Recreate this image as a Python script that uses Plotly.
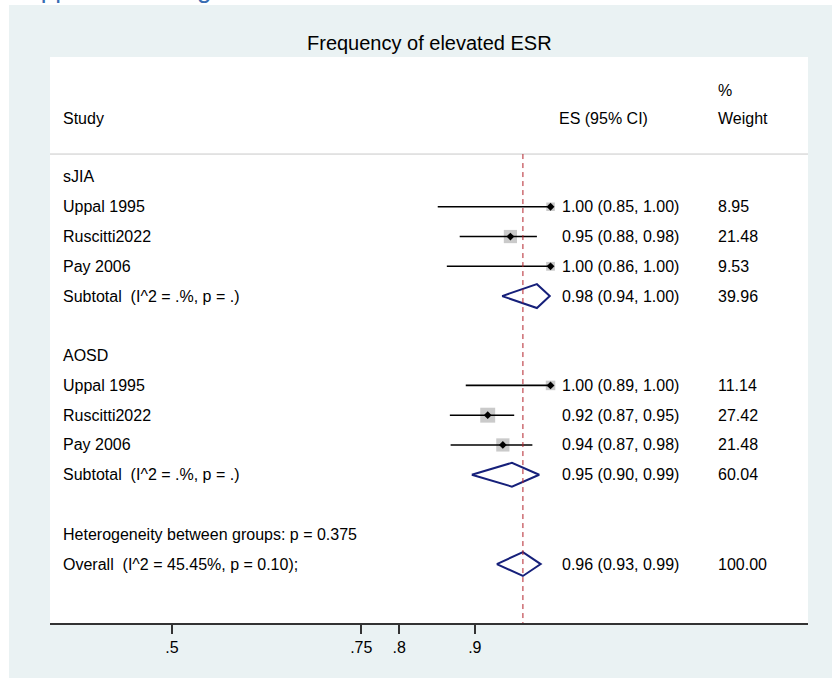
import plotly.graph_objects as go

# ---------------- data ----------------
row_labels = ["sJIA", "Uppal 1995", "Ruscitti2022", "Pay 2006",
              "Subtotal\u00a0\u00a0(I^2 = .%, p = .)", "",
              "AOSD", "Uppal 1995", "Ruscitti2022", "Pay 2006",
              "Subtotal\u00a0\u00a0(I^2 = .%, p = .)", "",
              "Heterogeneity between groups: p = 0.375",
              "Overall\u00a0\u00a0(I^2 = 45.45%, p = 0.10);"]
es_text = ["", "1.00 (0.85, 1.00)", "0.95 (0.88, 0.98)", "1.00 (0.86, 1.00)",
           "0.98 (0.94, 1.00)", "", "", "1.00 (0.89, 1.00)", "0.92 (0.87, 0.95)",
           "0.94 (0.87, 0.98)", "0.95 (0.90, 0.99)", "", "", "0.96 (0.93, 0.99)"]
weight_text = ["", "8.95", "21.48", "9.53", "39.96", "", "", "11.14", "27.42",
               "21.48", "60.04", "", "", "100.00"]

# individual studies (row index, ES, lower, upper, weight)
study_rows = [1, 2, 3, 7, 8, 9]
study_es = [1.000, 0.947, 1.000, 1.000, 0.917, 0.937]
study_lo = [0.851, 0.880, 0.863, 0.888, 0.867, 0.868]
study_hi = [1.000, 0.982, 1.000, 1.000, 0.952, 0.976]
study_w = [8.95, 21.48, 9.53, 11.14, 27.42, 21.48]

# pooled estimates (subtotals and overall)
pool_rows = [4, 10, 13]
pool_es = [0.982, 0.949, 0.9635]
pool_lo = [0.936, 0.896, 0.929]
pool_hi = [0.999, 0.985, 0.987]

overall_es = 0.9635

tick_vals = [0.5, 0.75, 0.8, 0.9]
tick_text = [".5", ".75", ".8", ".9"]

title_text = "Frequency of elevated ESR"

# ---------------- layout constants ----------------
W, H = 832, 678
L, R, T, B = 50, 24, 57, 55
PW, PH = W - L - R, H - T - B
FONT = "Liberation Sans, Arial, Helvetica, sans-serif"
BG = "#EAF2F3"

def px2paper_x(px):
    return (px - L) / PW

def py2paper_y(py):
    return (H - B - py) / PH

Y_TOP, Y_BOT = 4.03, -14.98

fig = go.Figure()

# gray weight boxes
fig.add_trace(go.Scatter(
    x=study_es, y=[-r for r in study_rows], mode="markers",
    marker=dict(symbol="square", size=[2.85 * w ** 0.5 for w in study_w],
                color="#b4b4b4", line=dict(width=0)),
    hoverinfo="skip", showlegend=False))

# CI lines
for r, lo, hi in zip(study_rows, study_lo, study_hi):
    fig.add_trace(go.Scatter(x=[lo, hi], y=[-r, -r], mode="lines",
                             line=dict(color="black", width=1.6),
                             hoverinfo="skip", showlegend=False))

# point estimates
fig.add_trace(go.Scatter(
    x=study_es, y=[-r for r in study_rows], mode="markers",
    marker=dict(symbol="diamond", size=6, color="black"),
    hoverinfo="skip", showlegend=False))

# pooled diamonds
for r, es, lo, hi in zip(pool_rows, pool_es, pool_lo, pool_hi):
    fig.add_trace(go.Scatter(
        x=[lo, es, hi, es, lo], y=[-r, -r + 0.4, -r, -r - 0.4, -r],
        mode="lines", line=dict(color="#16207a", width=2),
        hoverinfo="skip", showlegend=False))

annotations = []
# row labels, ES text, weights
for i, (lab, est, wt) in enumerate(zip(row_labels, es_text, weight_text)):
    if lab:
        annotations.append(dict(x=px2paper_x(61), y=-i, xref="paper", yref="y",
                                text=lab, showarrow=False, xanchor="left",
                                yanchor="middle", font=dict(size=16, color="black")))
    if est:
        annotations.append(dict(x=px2paper_x(560), y=-i, xref="paper", yref="y",
                                text=est, showarrow=False, xanchor="left",
                                yanchor="middle", font=dict(size=16, color="black")))
    if wt:
        annotations.append(dict(x=px2paper_x(716), y=-i, xref="paper", yref="y",
                                text=wt, showarrow=False, xanchor="left",
                                yanchor="middle", font=dict(size=16, color="black")))

# header
for txt, px, yy in [("Study", 61, 1.95), ("ES (95% CI)", 557, 1.95),
                    ("Weight", 716, 1.95), ("%", 716, 2.92)]:
    annotations.append(dict(x=px2paper_x(px), y=yy, xref="paper", yref="y",
                            text=txt, showarrow=False, xanchor="left",
                            yanchor="middle", font=dict(size=16, color="black")))

# title
annotations.append(dict(x=0.5, y=py2paper_y(43), xref="paper", yref="paper",
                        text=title_text, showarrow=False, xanchor="center",
                        yanchor="middle", font=dict(size=20, color="black")))

# cut-off page caption at the very top (as in the reference, only descenders show)
annotations.append(dict(x=px2paper_x(8), y=py2paper_y(5), xref="paper", yref="paper",
                        text="Supplemental Figure", showarrow=False, xanchor="left",
                        yanchor="bottom", borderpad=0,
                        font=dict(size=26, color="#3a6db3")))

shapes = [
    # white strips (page outside the graph region)
    dict(type="rect", xref="paper", yref="paper", x0=px2paper_x(-5), x1=px2paper_x(W + 5),
         y0=py2paper_y(5), y1=py2paper_y(-5), fillcolor="white", line=dict(width=0),
         layer="below"),
    dict(type="rect", xref="paper", yref="paper", x0=px2paper_x(-5), x1=px2paper_x(9),
         y0=py2paper_y(H + 5), y1=py2paper_y(-5), fillcolor="white", line=dict(width=0),
         layer="below"),
    # header separator
    dict(type="line", xref="paper", yref="y", x0=0, x1=1, y0=0.77, y1=0.77,
         line=dict(color="#c8c8c8", width=1)),
    # reference line at overall estimate
    dict(type="line", xref="x", yref="y", x0=overall_es, x1=overall_es,
         y0=0.77, y1=Y_BOT, line=dict(color="#b3202a", width=1, dash="5px,4px")),
]

fig.update_layout(
    width=W, height=H,
    margin=dict(l=L, r=R, t=T, b=B, pad=0),
    paper_bgcolor=BG, plot_bgcolor="white",
    font=dict(family=FONT, size=16, color="black"),
    showlegend=False,
    annotations=annotations, shapes=shapes,
    xaxis=dict(range=[0.3388, 1.3401], tickvals=tick_vals, ticktext=tick_text,
               ticks="outside", ticklen=9, tickwidth=1.5, tickcolor="#333333",
               showline=True, linecolor="#333333", linewidth=1.5,
               showgrid=False, zeroline=False, fixedrange=True,
               tickfont=dict(size=16, color="black")),
    yaxis=dict(range=[Y_BOT, Y_TOP], visible=False, showgrid=False,
               zeroline=False, fixedrange=True),
)

fig.write_html("out.html", config={"displayModeBar": False})
